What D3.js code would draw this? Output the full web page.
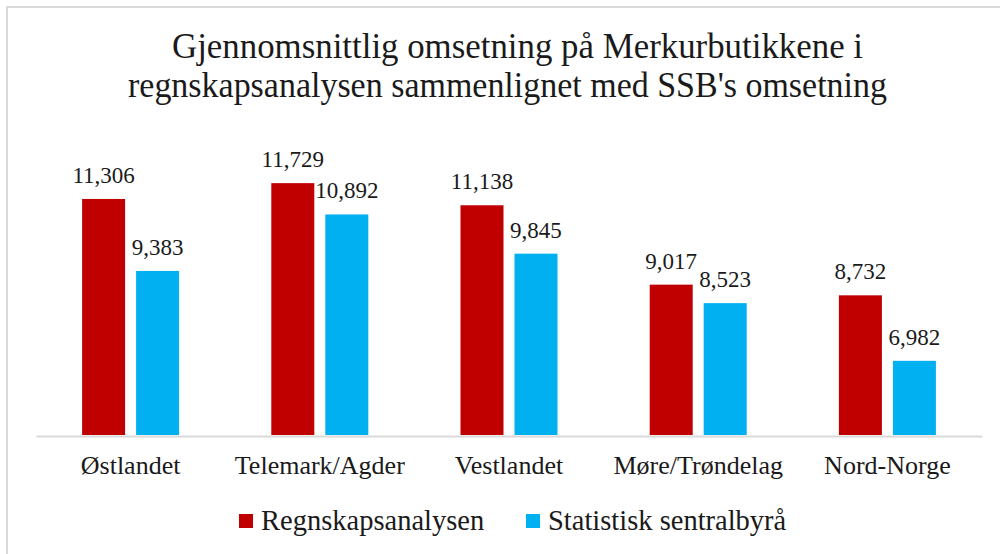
<!DOCTYPE html>
<html>
<head>
<meta charset="utf-8">
<script src="https://cdn.jsdelivr.net/npm/d3@7"></script>
<style>
  html, body { margin: 0; padding: 0; background: #fff; }
  svg text { fill: #1a1a1a; }
</style>
</head>
<body>
<div id="chart"></div>
<script>
var regions = ["Østlandet", "Telemark/Agder", "Vestlandet", "Møre/Trøndelag", "Nord-Norge"];
var series = ["Regnskapsanalysen", "Statistisk sentralbyrå"];
var regnskap = [11306, 11729, 11138, 9017, 8732];
var ssb = [9383, 10892, 9845, 8523, 6982];
var titleLines = ["Gjennomsnittlig omsetning på Merkurbutikkene i",
                  "regnskapsanalysen sammenlignet med SSB's omsetning"];
var colors = ["#C00000", "#00B0F0"];

var width = 1000, height = 554;
var fmt = d3.format(",d");
var serif = "'Liberation Serif', serif";

var svg = d3.select("#chart").append("svg")
    .attr("width", width)
    .attr("height", height);

// chart frame (only top and left edge visible)
svg.append("path")
    .attr("d", "M7,554V7H1000")
    .attr("fill", "none")
    .attr("stroke", "#d9d9d9")
    .attr("stroke-width", 2);

// title
svg.selectAll(".title")
    .data(titleLines)
  .enter().append("text")
    .attr("class", "title")
    .attr("x", function(d, i) { return i == 0 ? 172 : 128; })
    .attr("y", function(d, i) { return 58 + i * 39; })
    .attr("textLength", function(d, i) { return i == 0 ? 691 : 759; })
    .attr("lengthAdjust", "spacingAndGlyphs")
    .style("font-family", serif)
    .style("font-size", "35px")
    .text(function(d) { return d; });

var x0 = d3.scaleBand()
    .domain(regions)
    .range([36, 982]);

var x1 = d3.scaleBand()
    .domain(series)
    .range([-48.5, 48.5])
    .paddingInner(0.2037);

var y = d3.scaleLinear()
    .domain([5000, 12000])
    .range([435, 173]);

var rows = regions.map(function(r, i) {
  return [
    {region: r, key: series[0], value: regnskap[i]},
    {region: r, key: series[1], value: ssb[i]}
  ];
});

var groups = svg.selectAll(".group")
    .data(rows)
  .enter().append("g")
    .attr("class", "group")
    .attr("transform", function(d) {
      return "translate(" + (x0(d[0].region) + x0.bandwidth() / 2) + ",0)";
    });

groups.selectAll("rect")
    .data(function(d) { return d; })
  .enter().append("rect")
    .attr("x", function(d) { return x1(d.key); })
    .attr("width", x1.bandwidth())
    .attr("y", function(d) { return y(d.value); })
    .attr("height", function(d) { return y(5000) - y(d.value); })
    .style("fill", function(d, i) { return colors[i]; });

groups.selectAll(".label")
    .data(function(d) { return d; })
  .enter().append("text")
    .attr("class", "label")
    .attr("x", function(d) { return x1(d.key) + x1.bandwidth() / 2; })
    .attr("y", function(d) { return y(d.value) - 16; })
    .attr("text-anchor", "middle")
    .style("font-family", serif)
    .style("font-size", "23px")
    .text(function(d) { return fmt(d.value); });

// x axis
var xAxis = svg.append("g")
    .attr("class", "x axis")
    .attr("transform", "translate(0,436)")
    .call(d3.axisBottom(x0).tickSize(0).tickPadding(19.5));

xAxis.select(".domain")
    .attr("stroke", "#d9d9d9")
    .attr("stroke-width", 2);

xAxis.selectAll("text")
    .style("font-family", serif)
    .style("font-size", "26px")
    .style("fill", "#1a1a1a");

// legend
var legendX = [239, 526];
var legend = svg.selectAll(".legend")
    .data(series)
  .enter().append("g")
    .attr("class", "legend")
    .attr("transform", function(d, i) { return "translate(" + legendX[i] + ",514)"; });

legend.append("rect")
    .attr("width", 14)
    .attr("height", 14)
    .style("fill", function(d, i) { return colors[i]; });

legend.append("text")
    .attr("x", 22)
    .attr("y", 16)
    .style("font-family", serif)
    .style("font-size", "28.5px")
    .text(function(d) { return d; });
</script>
</body>
</html>
